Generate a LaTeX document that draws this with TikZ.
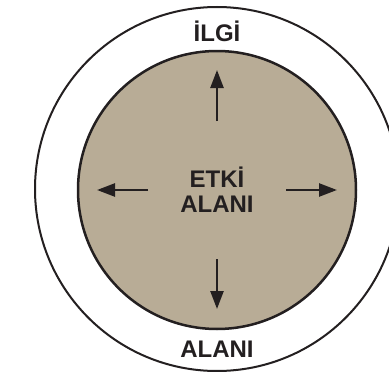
\documentclass[tikz,border=0pt]{standalone}
\usepackage{fontspec}
\setmainfont{Liberation Sans}
\usetikzlibrary{arrows.meta}
\definecolor{fieldfill}{RGB}{184,172,150}
\definecolor{ink}{RGB}{35,31,32}
\tikzset{
  ring/.style={circle, draw=ink, line width=2pt, inner sep=0pt},
  lbl/.style={text=ink, font=\bfseries\fontsize{24}{25}\selectfont, align=center, inner sep=0pt},
  push/.style={draw=ink, line width=2.5pt, -{Triangle[length=18pt,width=13pt]}}
}
\begin{document}
\begin{tikzpicture}[x=1pt,y=-1pt]
\useasboundingbox (0,0) rectangle (389,372);
\clip (0,0) rectangle (389,372);
\node[ring, minimum size=364pt] (outer) at (217,189) {};
\node[ring, fill=fieldfill, line width=2.5pt, minimum size=278pt] (inner) at (217,190) {};
\node[lbl] (ilgi) at (217,31.5) {İLGİ};
\node[lbl] (alani) at (217,349) {ALANI};
\node[lbl] (etki) at (217,190) {ETKİ\\ALANI};
\coordinate (u0) at (217,121); \coordinate (u1) at (217,70);
\coordinate (d0) at (217,259); \coordinate (d1) at (217,309);
\coordinate (l0) at (148,190); \coordinate (l1) at (97,190);
\coordinate (r0) at (286,190); \coordinate (r1) at (337,190);
\draw[push] (u0) -- (u1);
\draw[push] (d0) -- (d1);
\draw[push] (l0) -- (l1);
\draw[push] (r0) -- (r1);
\end{tikzpicture}
\end{document}
